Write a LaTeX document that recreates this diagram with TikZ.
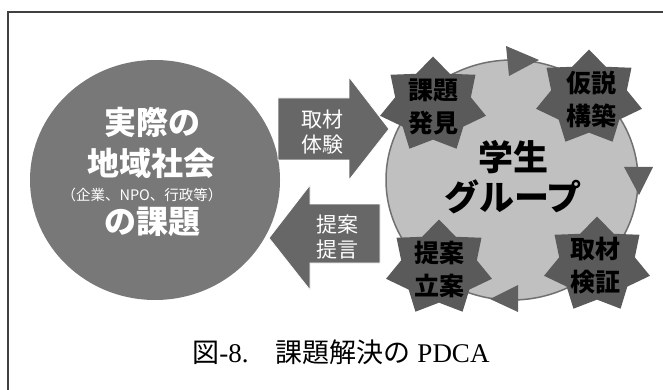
\documentclass[tikz,border=0pt]{standalone}
\usepackage{fontspec}
\setmainfont{Liberation Serif}
\newfontfamily\jp{Noto Sans CJK JP}
\usetikzlibrary{shapes.geometric}
\definecolor{framegray}{HTML}{404040}
\definecolor{leftgray}{HTML}{787878}
\definecolor{arrowgray}{HTML}{676767}
\definecolor{circgray}{HTML}{C0C0C0}
\definecolor{circline}{HTML}{707070}
\definecolor{stargray}{HTML}{5A5A5A}
\definecolor{trigray}{HTML}{606060}
\begin{document}
\begin{tikzpicture}[x=1pt,y=-1pt,
  starbox/.style={star, star points=7, star point ratio=1.40, minimum size=97pt, inner sep=0pt, fill=stargray, transform shape},
  startext/.style={align=center, inner sep=0pt, text=black, font=\jp\bfseries\fontsize{25}{33}\selectfont},
  arrowtext/.style={align=center, inner sep=0pt, text=white, font=\jp\fontsize{21}{25}\selectfont},
  bigwhite/.style={inner sep=0pt, text=white, font=\jp\bfseries\fontsize{32}{36}\selectfont},
  blockarrow/.style={fill=arrowgray, draw=white, line width=0.8pt, line join=miter},
  tri/.style={fill=trigray}]
\useasboundingbox (0,0) rectangle (663,390);
% frame
\draw[framegray, line width=2pt] (8,395) -- (8,12) -- (665,12);
% circles
\node[ellipse, fill=leftgray, minimum width=250pt, minimum height=240pt, inner sep=0pt] (soc) at (155,180) {};
\node[ellipse, fill=circgray, draw=circline, line width=1.5pt, minimum width=252pt, minimum height=240pt, inner sep=0pt] (grp) at (512,180) {};
% cycle arrowheads on the circle
\fill[tri] (506,46) -- (509,76) -- (539,60) -- cycle;
\fill[tri] (624,167) -- (653,167) -- (639,195) -- cycle;
\fill[tri] (518,285) -- (518,312) -- (490,299) -- cycle;
% stars
\begin{scope}[shift={(433,105)}, xscale=1.12]
  \node[starbox] (st1) at (0,0) {};
\end{scope}
\begin{scope}[shift={(589,98)}, xscale=1.12]
  \node[starbox] (st2) at (0,0) {};
\end{scope}
\begin{scope}[shift={(439,268)}, xscale=1.12]
  \node[starbox] (st3) at (0,0) {};
\end{scope}
\begin{scope}[shift={(597,265)}, xscale=1.12]
  \node[starbox] (st4) at (0,0) {};
\end{scope}
\node[startext] (t1) at (433,107) {課題\\発見};
\node[startext] (t2) at (591,99) {仮説\\構築};
\node[startext] (t3) at (439,269) {提案\\立案};
\node[startext] (t4) at (595,266) {取材\\検証};
% block arrows
\fill[blockarrow] (278,98) -- (349,98) -- (349,77) -- (389,129) -- (349,180) -- (349,160) -- (278,160) -- cycle;
\node[arrowtext] (a1) at (322,132) {取材\\体験};
\fill[blockarrow] (380,204) -- (310,204) -- (310,185) -- (269,238) -- (310,290) -- (310,263) -- (380,263) -- cycle;
\node[arrowtext] (a2) at (337,237) {提案\\提言};
% left circle text
\node[bigwhite] (soc1) at (152,122) {実際の};
\node[bigwhite] (soc2) at (151,163) {地域社会};
\node[inner sep=0pt, text=white, font=\jp\fontsize{14.5}{16}\selectfont] (soc3) at (142,195) {（企業、NPO、行政等）};
\node[bigwhite] (soc4) at (152,222) {の課題};
% centre text
\node[align=center, inner sep=0pt, text=black, font=\jp\bfseries\fontsize{35}{40}\selectfont] (grpt) at (513,177) {学生\\グループ};
% caption
\node[inner sep=0pt, font=\fontsize{27}{30}\selectfont] (cap) at (341,352) {{\jp 図}-8.{\jp 　課題解決の} PDCA};
\end{tikzpicture}
\end{document}
